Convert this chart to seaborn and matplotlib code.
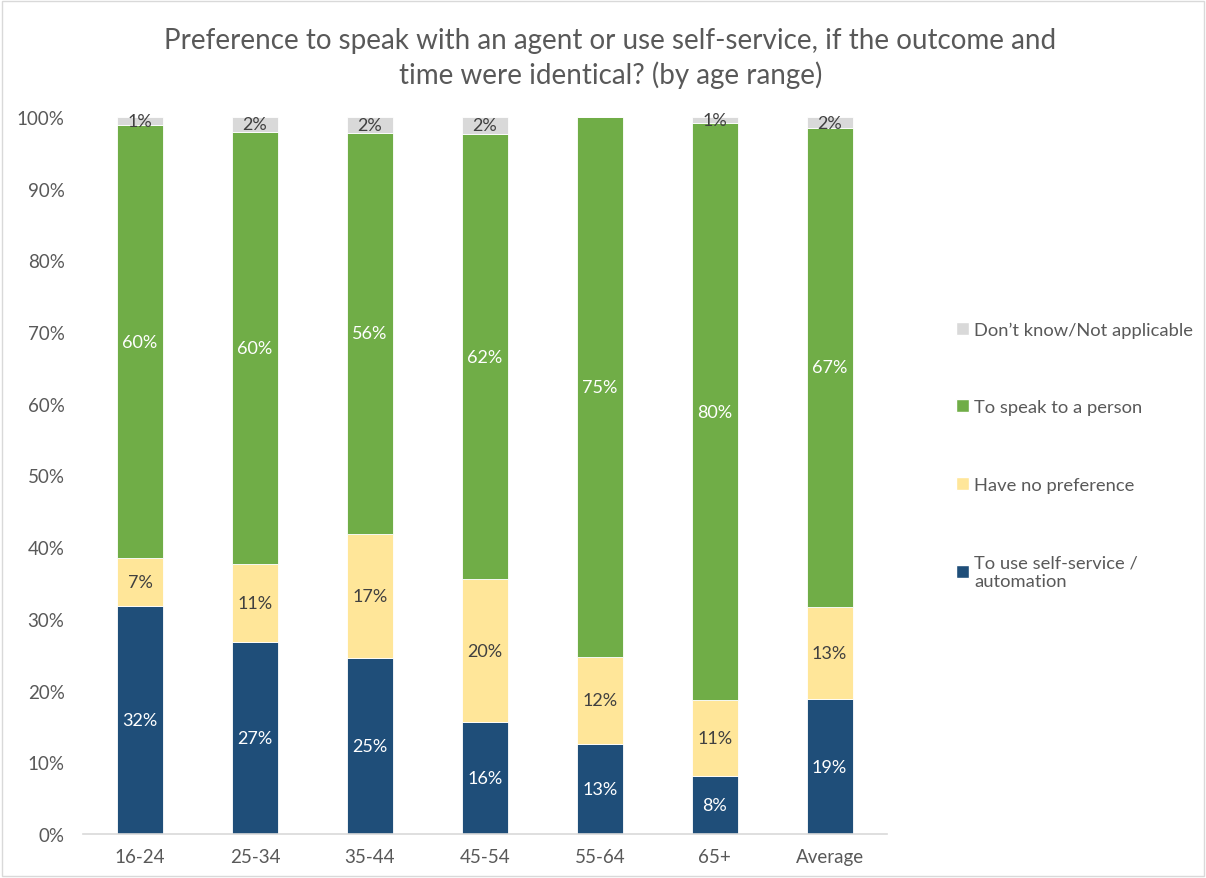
import numpy as np
import pandas as pd
import matplotlib.pyplot as plt
import seaborn as sns
from matplotlib.patches import Patch

# age ranges on the x axis
ages = ['16-24', '25-34', '35-44', '45-54', '55-64', '65+', 'Average']

# share of respondents (%) per answer
self_service = [31.8, 26.8, 24.6, 15.6, 12.6, 8.1, 18.8]
no_preference = [6.7, 10.8, 17.3, 19.9, 12.1, 10.6, 12.9]
person = [60.3, 60.3, 55.9, 62.1, 75.3, 80.4, 66.7]
dont_know = [1.2, 2.1, 2.2, 2.4, 0.0, 0.9, 1.6]

series_names = ['To use self-service /\nautomation', 'Have no preference',
                'To speak to a person', 'Don\u2019t know/Not applicable']
colors = ['#1F4E79', '#FFE699', '#70AD47', '#D9D9D9']
label_colors = ['white', '#404040', 'white', '#404040']

sns.set_style('white')
plt.rcParams['font.family'] = ['Lato', 'DejaVu Sans']

fig = plt.figure(figsize=(12.06, 8.79), dpi=100)
ax = fig.add_axes([0.0685, 0.05, 0.667, 0.816])

df = pd.DataFrame({'age': ages, 's0': self_service, 's1': no_preference,
                   's2': person, 's3': dont_know})

bottom = np.zeros(len(ages))
for i, col in enumerate(['s0', 's1', 's2', 's3']):
    sns.barplot(data=df, x='age', y=col, order=ages, bottom=bottom,
                color=colors[i], width=0.4, edgecolor='white', linewidth=0.6,
                saturation=1, ax=ax)
    bottom = bottom + df[col].to_numpy()

for i, cont in enumerate(ax.containers):
    vals = df[f's{i}'].to_numpy()
    labels = [f'{round(v):.0f}%' if v > 0 else '' for v in vals]
    ax.bar_label(cont, labels=labels, label_type='center',
                 color=label_colors[i], fontsize=13)

ax.set_xlim(-0.5, len(ages) - 0.5)
ax.set_ylim(0, 100)
ax.set_yticks(range(0, 101, 10))
ax.set_yticklabels([f'{t}%' for t in range(0, 101, 10)])
ax.tick_params(axis='both', labelsize=13.5, colors='#595959', length=0)
ax.tick_params(axis='y', pad=13)
ax.tick_params(axis='x', pad=10)
ax.set_xlabel('')
ax.set_ylabel('')
for side in ['top', 'right', 'left']:
    ax.spines[side].set_visible(False)
ax.spines['bottom'].set_color('#D9D9D9')
ax.spines['bottom'].set_linewidth(1.2)

fig.suptitle('Preference to speak with an agent or use self-service, if the outcome and\n'
             'time were identical? (by age range)',
             x=0.506, y=0.968, fontsize=20, color='#595959', linespacing=1.3)

handles = [Patch(facecolor=colors[i], label=series_names[i]) for i in [3, 2, 1, 0]]
fig.legend(handles=handles, loc='upper left', bbox_to_anchor=(0.779, 0.652),
           frameon=False, fontsize=13.2, labelcolor='#595959',
           handlelength=0.7, handleheight=0.7, handletextpad=0.3,
           labelspacing=3.35)

# light chart border
fig.patches.append(plt.Rectangle((0.002, 0.002), 0.996, 0.996, transform=fig.transFigure,
                                 fill=False, edgecolor='#D9D9D9', linewidth=1))

plt.savefig('out.png', dpi=100)
